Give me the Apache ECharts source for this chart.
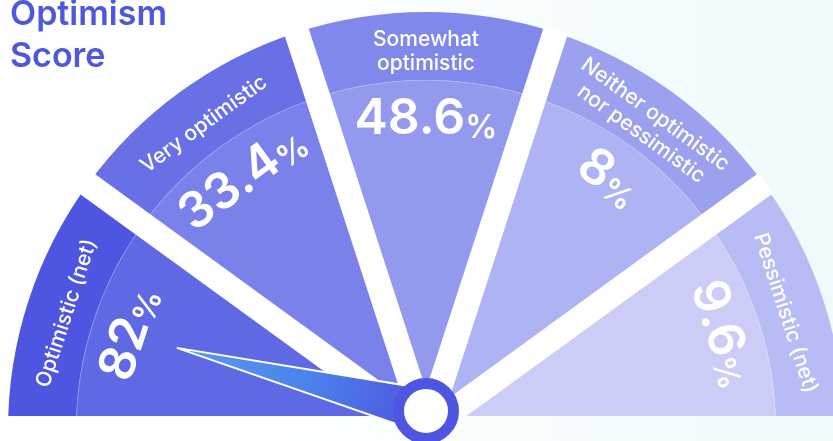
<!DOCTYPE html>
<html>
<head>
<meta charset="utf-8">
<script src="https://cdn.jsdelivr.net/npm/echarts@6/dist/echarts.min.js"></script>
<style>
  html, body { margin: 0; padding: 0; background: #ffffff; }
  #chart { width: 833px; height: 441px; }
</style>
</head>
<body>
<div id="chart"></div>
<script>
// Survey answer groups, left to right around the dial
const categories = [
  'Optimistic (net)',
  'Very optimistic',
  'Somewhat\noptimistic',
  'Neither optimistic\nnor pessimistic',
  'Pessimistic (net)'
];
// Share of respondents (%) per group
const values = [82, 33.4, 48.6, 8, 9.6];
// Needle reading on a 0–100 dial
const needleValue = [7.9];

// Styling
const outerColors = ['#4e56e1', '#6970e6', '#8188eb', '#9ba1ee', '#b8bcf4'];
const innerColors = ['#5f69e4', '#7a81ea', '#939aee', '#aeb3f3', '#cbcdf7'];
const FONT = 'Inter, "Noto Sans", sans-serif';
const CX = 426, CY = 430;          // dial centre (below the visible baseline)
const R_OUT = 418, R_BAND = 350;   // outer edge, inner edge of the label band

const bgStops = [
  { offset: 0, color: '#ffffff' },
  { offset: 0.5, color: '#fbfefe' },
  { offset: 1, color: '#effafc' }
];

const chart = echarts.init(document.getElementById('chart'), null, { renderer: 'canvas' });

// equal-width segments; one slice per answer group
const slices = (colors) => categories.map((c, i) => ({
  name: c, value: 1, itemStyle: colors ? { color: colors[i] } : undefined
}));

const option = {
  animation: false,
  backgroundColor: 'transparent',
  title: {
    text: 'Optimism\nScore',
    left: 10,
    top: -6,
    padding: 0,
    textStyle: { color: '#4f58dc', fontSize: 34, fontWeight: 600, lineHeight: 42, fontFamily: FONT }
  },
  graphic: [
    {
      type: 'rect', z: 0, silent: true,
      shape: { x: 0, y: 0, width: 833, height: 441 },
      style: { fill: new echarts.graphic.LinearGradient(0, 0, 1, 0, bgStops) }
    },
    {
      // flat baseline: hides the part of the dial below it
      type: 'rect', z: 5, silent: true,
      shape: { x: 0, y: 416, width: 833, height: 25 },
      style: { fill: new echarts.graphic.LinearGradient(0, 0, 1, 0, bgStops) }
    }
  ],
  series: [
    {
      // inner value area of each segment
      type: 'pie', z: 2, silent: true,
      center: [CX, CY], radius: [0, R_BAND],
      startAngle: 180, endAngle: 0, clockwise: true,
      avoidLabelOverlap: false,
      label: { show: false }, labelLine: { show: false },
      itemStyle: { borderColor: 'rgba(255,255,255,0.35)', borderWidth: 1 },
      data: slices(innerColors)
    },
    {
      // outer label band
      type: 'pie', z: 2, silent: true,
      center: [CX, CY], radius: [R_BAND, R_OUT],
      startAngle: 180, endAngle: 0, clockwise: true,
      avoidLabelOverlap: false,
      label: { show: false }, labelLine: { show: false },
      data: slices(outerColors)
    },
    {
      // carrier ring for the group names
      type: 'pie', z: 2, silent: true,
      center: [CX, CY], radius: [340, 410],
      startAngle: 180, endAngle: 0, clockwise: true,
      avoidLabelOverlap: false,
      labelLine: { show: false },
      itemStyle: { color: 'rgba(0,0,0,0)' },
      label: {
        show: true, position: 'inside', rotate: 'tangential',
        formatter: '{b}', color: '#ffffff',
        fontSize: 21, fontWeight: 500, lineHeight: 24, fontFamily: FONT
      },
      data: slices()
    },
    {
      // carrier ring for the percentage labels
      type: 'pie', z: 2, silent: true,
      center: [CX, CY], radius: [272, R_BAND],
      startAngle: 180, endAngle: 0, clockwise: true,
      avoidLabelOverlap: false,
      labelLine: { show: false },
      itemStyle: { color: 'rgba(0,0,0,0)' },
      label: {
        show: true, position: 'inside', rotate: 'tangential',
        formatter: p => '{n|' + values[p.dataIndex] + '}{p|%}',
        rich: {
          n: { color: '#ffffff', fontSize: 50, fontWeight: 600, fontFamily: FONT, verticalAlign: 'bottom', lineHeight: 56 },
          p: { color: '#ffffff', fontSize: 32, fontWeight: 600, fontFamily: FONT, verticalAlign: 'bottom', lineHeight: 48 }
        }
      },
      data: slices()
    },
    {
      // white separators between segments
      type: 'gauge', z: 3, silent: true,
      center: [CX, CY], radius: R_OUT + 2,
      startAngle: 180, endAngle: 0, min: 0, max: 100, splitNumber: categories.length,
      axisLine: { show: false, lineStyle: { width: 0 } },
      splitLine: { show: true, distance: 0, length: R_OUT + 2, lineStyle: { color: '#ffffff', width: 25, cap: 'butt' } },
      axisTick: { show: false }, axisLabel: { show: false },
      pointer: { show: false }, anchor: { show: false },
      title: { show: false }, detail: { show: false },
      data: [{ value: 0 }]
    },
    {
      // needle
      type: 'gauge', z: 10, silent: true,
      center: [CX, 411], radius: 257,
      startAngle: 180, endAngle: 0, min: 0, max: 100,
      axisLine: { show: false, lineStyle: { width: 0 } },
      splitLine: { show: false }, axisTick: { show: false }, axisLabel: { show: false },
      pointer: {
        show: true, icon: 'path://M50,0L100,100L0,100Z',
        length: 257, width: 44, offsetCenter: [0, 0],
        itemStyle: {
          color: new echarts.graphic.LinearGradient(0, 0, 0, 1, [
            { offset: 0, color: '#5a9af3' },
            { offset: 0.5, color: '#4c84ec' },
            { offset: 1, color: '#4e55e0' }
          ]),
          borderColor: '#ffffff', borderWidth: 2
        }
      },
      anchor: {
        show: true, showAbove: true, size: 55,
        itemStyle: { color: '#ffffff', borderColor: '#4e56e1', borderWidth: 11 }
      },
      title: { show: false }, detail: { show: false },
      data: [{ value: needleValue[0] }]
    }
  ]
};

chart.setOption(option);
</script>
</body>
</html>
